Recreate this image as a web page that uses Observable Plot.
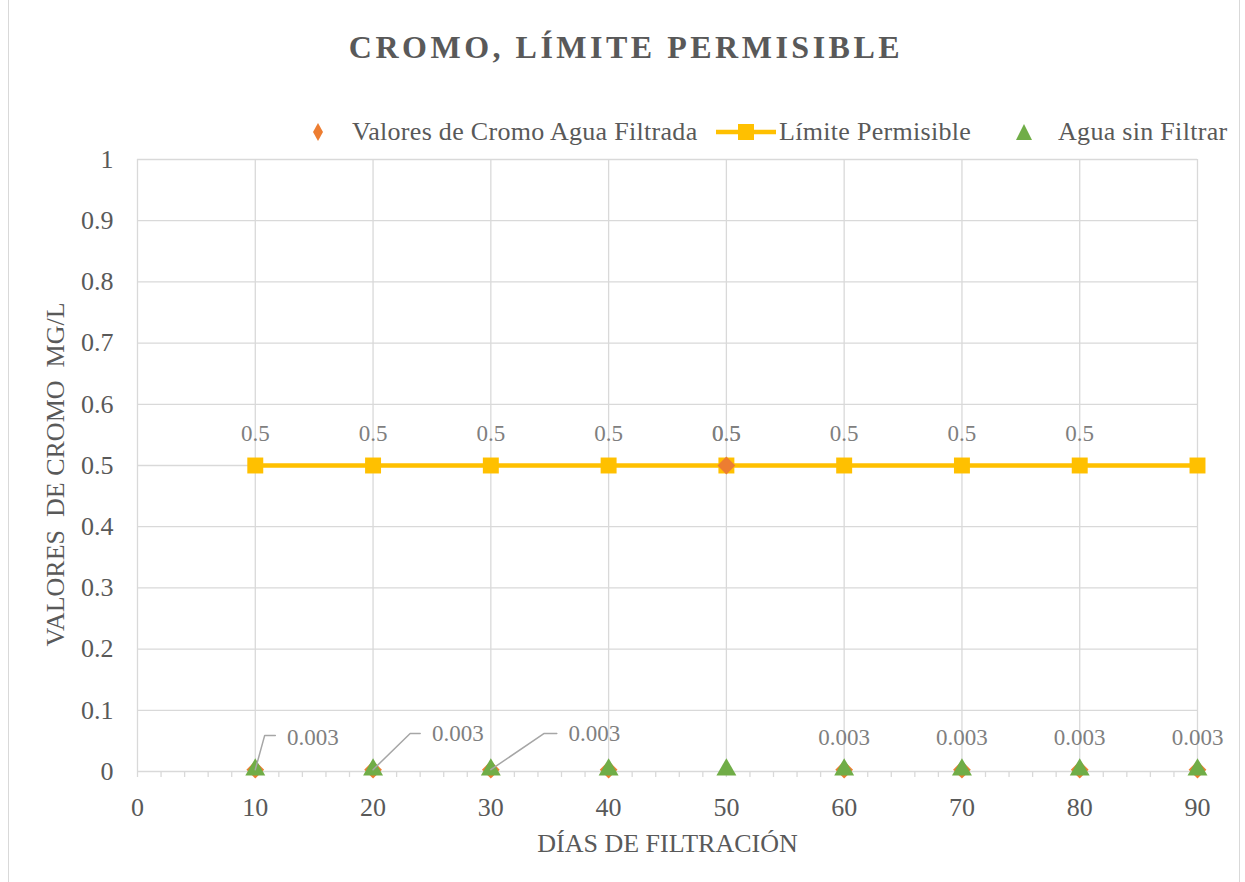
<!DOCTYPE html>
<html>
<head>
<meta charset="utf-8">
<script src="https://cdn.jsdelivr.net/npm/d3@7"></script>
<script src="https://cdn.jsdelivr.net/npm/@observablehq/plot@0.6"></script>
<style>
  html, body { margin: 0; padding: 0; background: #fff; }
  #frame { position: relative; width: 1245px; height: 882px; overflow: hidden; font-family: "Liberation Serif", "DejaVu Serif", serif; }
  #border { position: absolute; left: 8px; top: -10px; width: 1232px; height: 910px; border: 1.5px solid #d9d9d9; box-sizing: border-box; pointer-events: none; }
  #header { position: relative; height: 150px; }
  #title { position: absolute; left: 0; width: 1252px; top: 31px; text-align: center; font-size: 32px; line-height: 32px; font-weight: bold; letter-spacing: 3.5px; color: #595959; }
  .leg { position: absolute; top: 119px; font-size: 26px; line-height: 26px; letter-spacing: 0.3px; color: #595959; white-space: nowrap; }
  .sym { position: absolute; }
  #chart svg { display: block; }
</style>
</head>
<body>
<div id="frame">
  <div id="border"></div>
  <div id="header">
    <div id="title">CROMO, LÍMITE PERMISIBLE</div>
    <svg class="sym" style="left:310px;top:122px" width="16" height="20"><polygon points="8,1 13,10 8,19 3,10" fill="#ED7D31"/></svg>
    <div class="leg" style="left:352px">Valores de Cromo Agua Filtrada</div>
    <svg class="sym" style="left:714px;top:121px" width="64" height="22"><line x1="2" y1="11" x2="62" y2="11" stroke="#FFC000" stroke-width="4.5"/><rect x="24" y="3" width="16" height="16" fill="#FFC000"/></svg>
    <div class="leg" style="left:779px">Límite Permisible</div>
    <svg class="sym" style="left:1014px;top:122px" width="20" height="20"><polygon points="10,2 18,18 2,18" fill="#70AD47"/></svg>
    <div class="leg" style="left:1058px">Agua sin Filtrar</div>
  </div>
  <div id="chart"></div>
</div>
<script>
// ---- data ----
const days = [10, 20, 30, 40, 50, 60, 70, 80, 90];
const filtrada = [0.003, 0.003, 0.003, 0.003, 0.5, 0.003, 0.003, 0.003, 0.003];
const limite = [0.5, 0.5, 0.5, 0.5, 0.5, 0.5, 0.5, 0.5, 0.5];
const sinFiltrar = [0.003, 0.003, 0.003, 0.003, 0.003, 0.003, 0.003, 0.003, 0.003];
// which data labels are shown in the reference
const filtradaLabelShown = [true, true, true, false, true, true, true, true, true];
const limiteLabelShown = [true, true, true, true, true, true, true, true, false];
const xTicks = [0, 10, 20, 30, 40, 50, 60, 70, 80, 90];
const yTicks = [0, 0.1, 0.2, 0.3, 0.4, 0.5, 0.6, 0.7, 0.8, 0.9, 1];
const xLabel = "DÍAS DE FILTRACIÓN";
const yLabel = "VALORES\u00a0\u00a0DE CROMO\u00a0\u00a0MG/L";

// callouts (moved labels with leader lines), offsets in data units
const callouts = [
  {i: 0, elbowDx: 0.8, elbowY: 0.059, endDx: 1.7, labelDx: 2.7, labelY: 0.056},
  {i: 1, elbowDx: 3.15, elbowY: 0.062, endDx: 4.0, labelDx: 5.0, labelY: 0.062},
  {i: 2, elbowDx: 4.5, elbowY: 0.062, endDx: 5.6, labelDx: 6.6, labelY: 0.062}
];

// ---- tables ----
const rows = days.map((d, i) => ({day: d, filtrada: filtrada[i], limite: limite[i], sin: sinFiltrar[i], i}));
const calloutIdx = new Set(callouts.map(c => c.i));
const leaderPts = callouts.flatMap(c => [
  {g: c.i, x: days[c.i], y: filtrada[c.i]},
  {g: c.i, x: days[c.i] + c.elbowDx, y: c.elbowY},
  {g: c.i, x: days[c.i] + c.endDx, y: c.elbowY}
]);
const calloutLabels = callouts.map(c => ({x: days[c.i] + c.labelDx, y: c.labelY, t: String(filtrada[c.i])}));

const grid = "#d9d9d9";
const txt = "#595959";
const lbl = "#7f7f7f";

const plot = Plot.plot({
  width: 1245,
  height: 732,
  marginLeft: 137,
  marginRight: 48,
  marginTop: 9,
  marginBottom: 111,
  style: {fontFamily: "Liberation Serif, serif", fontSize: "26px", color: txt, background: "transparent", overflow: "visible"},
  x: {domain: [0, 90]},
  y: {domain: [0, 1]},
  marks: [
    Plot.ruleY(yTicks, {stroke: grid, strokeWidth: 1.3}),
    Plot.ruleX(xTicks, {stroke: grid, strokeWidth: 1.3}),
    Plot.axisX(d3.range(0, 91, 2), {tickSize: 6, tickFormat: () => "", stroke: grid, strokeWidth: 1.3, label: null}),
    Plot.axisX(xTicks, {tickSize: 0, tickPadding: 26, fill: txt, label: null, fontSize: 26, tickFormat: d => String(d)}),
    Plot.axisY(yTicks, {tickSize: 0, tickPadding: 24, fill: txt, label: null, fontSize: 26, tickFormat: d => String(+d.toFixed(1))}),
    Plot.text([xLabel], {frameAnchor: "bottom", dy: 72, fill: txt, fontSize: 26, lineAnchor: "middle"}),
    Plot.text([yLabel], {frameAnchor: "left", textAnchor: "middle", dx: -82, dy: 9, rotate: -90, fill: txt, fontSize: 26, lineAnchor: "middle"}),
    // limit line
    Plot.line(rows, {x: "day", y: "limite", stroke: "#FFC000", strokeWidth: 4.5}),
    Plot.dot(rows, {x: "day", y: "limite", symbol: "square", r: 9, fill: "#FFC000", stroke: "none"}),
    // filtered
    Plot.dot(rows, {x: "day", y: "filtrada", symbol: "diamond2", r: 8, fill: "#ED7D31", stroke: "none"}),
    // unfiltered
    Plot.dot(rows, {x: "day", y: "sin", symbol: "triangle", r: 7.4, fill: "#70AD47", stroke: "none"}),
    // leader lines
    Plot.line(leaderPts, {x: "x", y: "y", z: "g", stroke: "#a6a6a6", strokeWidth: 1.5}),
    // data labels
    Plot.text(rows.filter(r => limiteLabelShown[r.i]), {x: "day", y: "limite", text: d => String(d.limite), dy: -32, fill: lbl, fontSize: 23, lineAnchor: "middle"}),
    Plot.text(rows.filter(r => filtradaLabelShown[r.i] && !calloutIdx.has(r.i)), {x: "day", y: "filtrada", text: d => String(d.filtrada), dy: -32, fill: lbl, fontSize: 23, lineAnchor: "middle"}),
    Plot.text(calloutLabels, {x: "x", y: "y", text: "t", textAnchor: "start", fill: lbl, fontSize: 23, lineAnchor: "middle"})
  ]
});
document.getElementById("chart").appendChild(plot);
</script>
</body>
</html>
